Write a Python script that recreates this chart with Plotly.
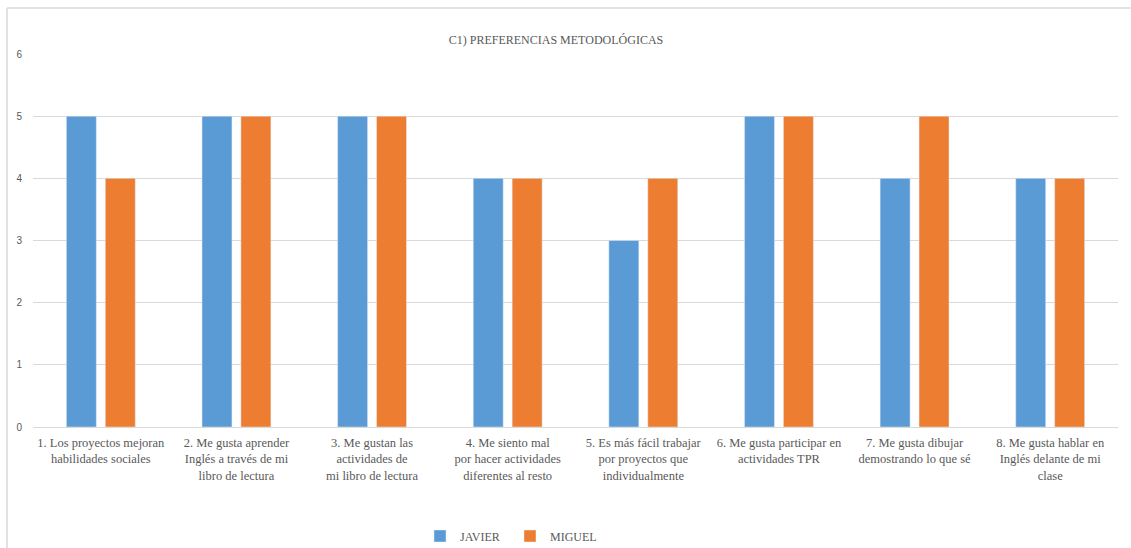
import plotly.graph_objects as go

# Survey items (methodological preferences), one category per statement
categories = [
    "1. Los proyectos mejoran<br>habilidades sociales",
    "2. Me gusta aprender<br>Inglés a través de mi<br>libro de lectura",
    "3. Me gustan las<br>actividades de<br>mi libro de lectura",
    "4. Me siento mal<br>por hacer actividades<br>diferentes al resto",
    "5. Es más fácil trabajar<br>por proyectos que<br>individualmente",
    "6. Me gusta participar en<br>actividades TPR",
    "7. Me gusta dibujar<br>demostrando lo que sé",
    "8. Me gusta hablar en<br>Inglés delante de mi<br>clase",
]
javier = [5, 5, 5, 4, 3, 5, 4, 4]
miguel = [4, 5, 5, 4, 4, 5, 5, 4]
y_ticks = [0, 1, 2, 3, 4, 5, 6]

BLUE = "#5B9BD5"
ORANGE = "#ED7D31"
GRID = "#D9D9D9"
TEXT = "#595959"
SERIF = "Liberation Serif, DejaVu Serif, serif"
SANS = "Liberation Sans, Arial, sans-serif"

fig = go.Figure()
fig.add_trace(go.Bar(name="JAVIER", x=categories, y=javier, marker_color=BLUE))
fig.add_trace(go.Bar(name="MIGUEL", x=categories, y=miguel, marker_color=ORANGE))

L, R, T, B = 33, 13, 54, 121
W, H = 1131, 548
pw, ph = W - L - R, H - T - B

fig.update_layout(
    width=W, height=H,
    margin=dict(l=L, r=R, t=T, b=B, autoexpand=False),
    paper_bgcolor="white", plot_bgcolor="white",
    barmode="group", bargap=0.426, bargroupgap=0.23,
    title=dict(
        text="C1) PREFERENCIAS METODOLÓGICAS",
        x=556 / W, xanchor="center", xref="container",
        y=1 - 40 / H, yanchor="middle",
        font=dict(family=SERIF, size=12, color=TEXT),
    ),
    legend=dict(
        orientation="h", x=(510 - L) / pw, xanchor="center",
        y=-(536 - (T + ph)) / ph, yanchor="middle",
        font=dict(family=SERIF, size=12, color=TEXT),
        itemwidth=30, traceorder="normal",
        entrywidth=45, entrywidthmode="pixels",
    ),
    showlegend=True,
    xaxis=dict(
        showline=True, linecolor=GRID, linewidth=1,
        ticks="", tickangle=0, ticklabelstandoff=4, automargin=False,
        tickfont=dict(family=SERIF, size=12.5, color=TEXT),
        showgrid=False, fixedrange=True,
    ),
    yaxis=dict(
        range=[0, 6], tickvals=y_ticks, showgrid=True, gridcolor=GRID,
        gridwidth=1, zeroline=False, ticks="", ticklabelstandoff=10,
        tickfont=dict(family=SANS, size=10, color=TEXT), automargin=False,
        showline=False, fixedrange=True,
    ),
    shapes=[
        # outer chart frame: left and top edges
        dict(type="line", xref="paper", yref="paper",
             x0=(7 - L) / pw, x1=(7 - L) / pw, y0=-(H - T - ph) / ph, y1=1 + (T - 8) / ph,
             line=dict(color=GRID, width=1.5)),
        dict(type="line", xref="paper", yref="paper",
             x0=(7 - L) / pw, x1=(W - L) / pw, y0=1 + (T - 8) / ph, y1=1 + (T - 8) / ph,
             line=dict(color=GRID, width=1.5)),
    ],
)

fig.write_html("out.html")
